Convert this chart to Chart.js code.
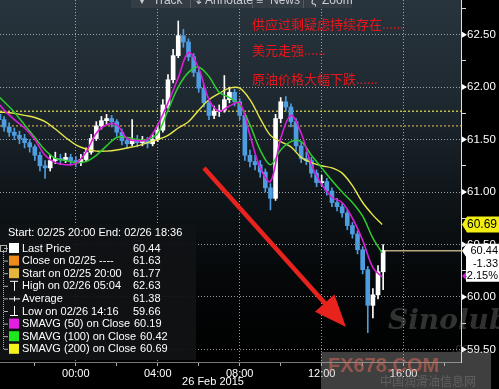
<!DOCTYPE html>
<html><head><meta charset="utf-8">
<script src="https://cdn.jsdelivr.net/npm/chart.js@4"></script>
<style>html,body{margin:0;padding:0;background:#000;overflow:hidden}</style>
</head><body>
<canvas id="c" width="499" height="389"></canvas>
<script>
// ---------- DATA ----------
const barTimes = ["20:15","20:30","20:45","21:00","21:15","21:30","21:45","22:00","22:15","22:30","22:45","23:00","23:15","23:30","23:45",
"00:00","00:15","00:30","00:45","01:00","01:15","01:30","01:45","02:00","02:15","02:30","02:45","03:00","03:15","03:30","03:45",
"04:00","04:15","04:30","04:45","05:00","05:15","05:30","05:45","06:00","06:15","06:30","06:45","07:00","07:15","07:30","07:45",
"08:00","08:15","08:30","08:45","09:00","09:15","09:30","09:45","10:00","10:15","10:30","10:45","11:00","11:15","11:30","11:45",
"12:00","12:15","12:30","12:45","13:00","13:15","13:30","13:45","14:00","14:15","14:30","14:45","15:00"];
const opens  = [61.74,61.69,61.62,61.57,61.54,61.51,61.47,61.43,61.35,61.25,61.23,61.30,61.32,61.31,61.33,
61.30,61.29,61.31,61.38,61.51,61.63,61.68,61.70,61.67,61.57,61.49,61.46,61.50,61.47,61.49,61.46,
61.50,61.59,61.83,62.07,62.30,62.49,62.43,62.29,62.14,61.99,61.85,61.73,61.77,61.78,61.88,61.95,
61.86,61.73,61.35,61.29,61.26,61.19,61.04,60.94,61.70,61.86,61.81,61.67,61.44,61.32,61.30,61.18,
61.09,61.10,61.01,60.90,60.86,60.80,60.68,60.60,60.45,60.26,59.92,60.02,60.24];
const highs  = [61.77,61.72,61.66,61.61,61.58,61.55,61.50,61.45,61.38,61.30,61.35,61.38,61.36,61.37,61.36,
61.34,61.36,61.42,61.55,61.67,61.72,61.74,61.73,61.69,61.60,61.52,61.69,61.54,61.53,61.52,61.55,
61.64,61.88,62.12,62.36,62.63,62.55,62.46,62.32,62.18,62.02,61.88,61.82,61.83,62.11,62.00,61.98,
61.89,61.75,61.40,61.35,61.30,61.22,61.08,61.74,61.90,61.91,61.84,61.70,61.47,61.38,61.33,61.21,
61.16,61.13,61.04,60.94,60.89,60.83,60.71,60.63,60.48,60.29,60.08,60.30,60.50];
const lows   = [61.64,61.58,61.53,61.50,61.46,61.42,61.38,61.30,61.20,61.13,61.20,61.27,61.26,61.28,61.26,
61.24,61.25,61.29,61.36,61.49,61.60,61.64,61.62,61.53,61.45,61.42,61.44,61.43,61.44,61.42,61.44,
61.48,61.57,61.80,62.04,62.28,62.38,62.25,62.10,61.95,61.81,61.69,61.70,61.72,61.76,61.85,61.82,
61.69,61.30,61.24,61.21,61.14,61.00,60.83,60.92,61.66,61.77,61.62,61.39,61.28,61.26,61.14,61.05,
61.06,60.97,60.86,60.82,60.76,60.64,60.56,60.41,60.22,59.66,59.80,59.98,60.07];
const closes = [61.69,61.62,61.57,61.54,61.51,61.47,61.43,61.35,61.25,61.23,61.30,61.32,61.31,61.33,61.30,
61.29,61.31,61.38,61.51,61.63,61.68,61.70,61.67,61.57,61.49,61.46,61.50,61.47,61.49,61.46,61.50,
61.59,61.83,62.07,62.30,62.49,62.43,62.29,62.14,61.99,61.85,61.73,61.77,61.78,61.88,61.95,61.86,
61.73,61.35,61.29,61.26,61.19,61.04,60.94,61.70,61.86,61.81,61.67,61.44,61.32,61.30,61.18,61.09,
61.10,61.01,60.90,60.86,60.80,60.68,60.60,60.45,60.26,59.92,60.02,60.24,60.44];

const maTimes = ["20:18","20:30","21:00","21:30","22:00","22:30","23:00","23:30","00:00","00:30","01:00","01:30","02:00",
"02:30","03:00","03:30","04:00","04:30","05:00","05:30","06:00","06:30","07:00","07:30","08:00","08:30","09:00","09:30",
"10:00","10:30","11:00","11:30","12:00","12:30","13:00","13:30","14:00","14:30","14:57"];
const sma50  = [61.83,61.78,61.69,61.61,61.50,61.35,61.28,61.26,61.27,61.38,61.56,61.64,61.64,61.51,61.49,61.50,61.64,61.85,62.09,62.33,
62.18,61.88,61.77,61.82,61.85,61.54,61.23,61.10,61.51,61.73,61.56,61.26,61.07,60.95,60.90,60.75,60.54,60.28,60.19];
const sma100 = [61.90,61.86,61.76,61.64,61.52,61.40,61.32,61.30,61.28,61.29,61.35,61.44,61.52,61.52,61.50,61.50,61.56,61.78,62.00,62.14,
62.19,62.10,61.95,61.90,61.83,61.64,61.40,61.26,61.40,61.48,61.48,61.35,61.23,61.11,61.00,60.90,60.77,60.56,60.42];
const sma200 = [61.76,61.76,61.75,61.73,61.71,61.67,61.60,61.52,61.45,61.41,61.39,61.39,61.40,61.42,61.44,61.47,61.50,61.54,61.61,61.67,
61.78,61.88,61.94,61.99,61.99,61.88,61.70,61.54,61.48,61.43,61.33,61.28,61.25,61.23,61.18,61.06,60.90,60.78,60.69];

const yTicks = [59.5,59.75,60,60.25,60.5,60.75,61,61.25,61.5,61.75,62,62.25,62.5,62.75];
const xTickTimes = ["22:00","00:00","02:00","04:00","06:00","08:00","10:00","12:00","14:00","16:00","18:00"];
const xLabelTimes = ["00:00","04:00","08:00","12:00","16:00"];
const xRangeStart = "20:18", xRangeEnd = "18:36";
const yMin = 59.38, yMax = 62.83;

const lastPrice = 60.44, prevClose = 61.63, startPrice = 61.77;
const changeText = ["60.44","-1.33","-2.15%"];
const sma200Last = "60.69";

const legendHeader = "Start: 02/25 20:00 End: 02/26 18:36";
const legendLabels = ["Last Price","Close on 02/25 ----","Start on 02/25 20:00","High on 02/26 05:04","Average","Low on 02/26 14:16",
  "SMAVG (50) on Close","SMAVG (100) on Close","SMAVG (200) on Close"];
const legendValues = ["60.44","61.63","61.77","62.63","61.38","59.66","60.19","60.42","60.69"];
const legendIcons = ["#ffffff","#f08a1a","#e3b53c","T","avg","low","#e31ee3","#1ee81e","#f2f21e"];

const notes = ["供应过剩疑虑持续存在......","美元走强......","原油价格大幅下跌......"];
const toolbar = ["Track","Annotate","News","Zoom"];
const dateLabel = "26 Feb 2015";

// ---------- HELPERS ----------
function toH(t){const [h,m]=t.split(":").map(Number);let v=h+m/60;return h>=20?v-20:v+4;}
function fmtH(v){let h=Math.round(v+20)%24;return (h<10?"0":"")+h+":00";}
const FONT = '"Liberation Sans", Arial, sans-serif';
const UP='#ffffff', DN='#4d9de0';
const candleColors = closes.map((c,i)=> c>=opens[i]?UP:DN);

const bgPlugin = {
  id:'bg',
  beforeDraw(chart){
    const {ctx, chartArea:a} = chart;
    ctx.save();
    ctx.fillStyle='#000'; ctx.fillRect(0,0,chart.width,chart.height);
    const g=ctx.createLinearGradient(0,a.top,0,a.bottom);
    g.addColorStop(0,'#28343d'); g.addColorStop(0.3,'#1d272e'); g.addColorStop(0.55,'#0e1418'); g.addColorStop(0.8,'#040607'); g.addColorStop(1,'#000');
    ctx.fillStyle=g; ctx.fillRect(a.left,a.top,a.right-a.left,a.bottom-a.top);
    ctx.restore();
  },
  afterDraw(chart){
    const {ctx, chartArea:a, scales:{x,y}} = chart;
    ctx.save();
    // y tick pointer triangles
    ctx.fillStyle='#fff';
    yTicks.filter(v=>Math.abs(v*2-Math.round(v*2))<1e-6).forEach(v=>{
      const py=y.getPixelForValue(v);
      ctx.beginPath(); ctx.moveTo(a.right+1,py-3); ctx.lineTo(a.right+6,py); ctx.lineTo(a.right+1,py+3); ctx.closePath(); ctx.fill();
    });
    // date label
    ctx.font='11px '+FONT; ctx.fillStyle='#fff'; ctx.textAlign='center'; ctx.textBaseline='middle';
    ctx.fillText(dateLabel, 213, 382);
    // toolbar
    ctx.fillStyle='#353d44'; ctx.fillRect(131,-6,221,14);
    ctx.strokeStyle='#555d64'; ctx.lineWidth=1;
    [190,252,303].forEach(px=>{ctx.beginPath();ctx.moveTo(px+0.5,-6);ctx.lineTo(px+0.5,8);ctx.stroke();});
    ctx.fillStyle='#c9cdd0'; ctx.textAlign='left'; ctx.font='12px '+FONT;
    ctx.fillText('▾',139,1); ctx.fillText(toolbar[0],153,1);
    ctx.fillText('↯',193,1); ctx.fillText(toolbar[1],205,1);
    ctx.fillText('≡',256,1); ctx.fillText(toolbar[2],270,1);
    ctx.fillText('ζ',311,1); ctx.fillText(toolbar[3],322,1);
    // red notes
    ctx.fillStyle='#e8161c'; ctx.font='13px "Noto Sans CJK SC", sans-serif';
    ctx.fillText(notes[0],252,24); ctx.fillText(notes[1],252,50); ctx.fillText(notes[2],252,79);
    // red arrow
    const x0=204,y0=168,x1=346,y1=327;
    const ang=Math.atan2(y1-y0,x1-x0), hl=32, hw=13;
    const bx=x1-hl*Math.cos(ang), by=y1-hl*Math.sin(ang);
    ctx.strokeStyle='#e8231d'; ctx.lineWidth=4.5; ctx.lineCap='butt';
    ctx.beginPath(); ctx.moveTo(x0,y0); ctx.lineTo(bx+4*Math.cos(ang),by+4*Math.sin(ang)); ctx.stroke();
    ctx.fillStyle='#e8231d'; ctx.beginPath(); ctx.moveTo(x1,y1);
    ctx.lineTo(bx+hw*Math.sin(ang),by-hw*Math.cos(ang)); ctx.lineTo(bx-hw*Math.sin(ang),by+hw*Math.cos(ang)); ctx.closePath(); ctx.fill();
    // legend box
    ctx.fillStyle='rgba(16,18,20,0.93)'; ctx.fillRect(0,224,196,136);
    ctx.font='11px '+FONT; ctx.textBaseline='middle'; ctx.fillStyle='#fff';
    ctx.fillText(legendHeader,8,233);
    ctx.strokeStyle='#b0b0b0'; ctx.lineWidth=1; ctx.setLineDash([1,1]);
    ctx.beginPath(); ctx.moveTo(3.5,250); ctx.lineTo(3.5,349); ctx.stroke();
    ctx.setLineDash([]);
    ctx.strokeRect(0.5,245.5,6,6);
    legendLabels.forEach((lab,i)=>{
      const ry=248+i*12.6;
      ctx.strokeStyle='#b0b0b0'; ctx.beginPath(); ctx.moveTo(4,ry+0.5); ctx.lineTo(8,ry+0.5); ctx.stroke();
      const ic=legendIcons[i];
      if(ic.startsWith('#')){ctx.fillStyle=ic; ctx.fillRect(9,ry-5,10,10);}
      else {
        ctx.strokeStyle='#fff'; ctx.lineWidth=1; ctx.beginPath();
        if(ic==='T'){ctx.moveTo(10,ry-4.5);ctx.lineTo(18,ry-4.5);ctx.moveTo(14.5,ry-4.5);ctx.lineTo(14.5,ry+5);}
        else if(ic==='low'){ctx.moveTo(10,ry+4.5);ctx.lineTo(18,ry+4.5);ctx.moveTo(14.5,ry+4.5);ctx.lineTo(14.5,ry-5);}
        else {ctx.moveTo(9,ry+0.5);ctx.lineTo(20,ry+0.5);ctx.moveTo(14.5,ry-2);ctx.lineTo(14.5,ry+3);}
        ctx.stroke();
      }
      ctx.fillStyle='#fff'; ctx.textAlign='left';
      ctx.fillText(lab,22,ry+0.5);
      const w=ctx.measureText(lab).width;
      ctx.fillText(legendValues[i], Math.max(133,22+w+4), ry+0.5);
    });
    // yellow SMA200 label
    const yy=y.getPixelForValue(parseFloat(sma200Last));
    ctx.fillStyle='#f2ee12';
    ctx.beginPath(); ctx.moveTo(a.right+1,yy); ctx.lineTo(a.right+6,yy-8); ctx.lineTo(499,yy-8); ctx.lineTo(499,yy+8); ctx.lineTo(a.right+6,yy+8); ctx.closePath(); ctx.fill();
    ctx.fillStyle='#000'; ctx.textAlign='right'; ctx.font='12px '+FONT;
    ctx.fillText(sma200Last,497,yy+0.5);
    // white last price box
    const ly=y.getPixelForValue(lastPrice);
    ctx.fillStyle='#fff';
    ctx.beginPath(); ctx.moveTo(a.right+1,ly); ctx.lineTo(a.right+5,ly-6); ctx.lineTo(a.right+5,ly-7); ctx.lineTo(499,ly-7); ctx.lineTo(499,ly+31); ctx.lineTo(a.right+5,ly+31); ctx.lineTo(a.right+5,ly+6); ctx.closePath(); ctx.fill();
    ctx.fillStyle='#000'; ctx.font='11px '+FONT;
    changeText.forEach((t,i)=>ctx.fillText(t,498,ly+0.5+i*12.3));
    // magenta pointer (SMA50)
    const my=y.getPixelForValue(sma50[sma50.length-1]);
    ctx.fillStyle='#d21ed2';
    ctx.beginPath(); ctx.moveTo(a.right+1,my-1); ctx.lineTo(a.right+5,my-5); ctx.lineTo(a.right+5,my+3); ctx.closePath(); ctx.fill();
    // watermark
    ctx.fillStyle='rgba(190,190,190,0.33)'; ctx.fillRect(321,352,170,37);
    ctx.font='italic bold 28px "DejaVu Serif", serif'; ctx.textAlign='left'; ctx.fillStyle='rgba(150,150,150,0.32)';
    ctx.fillText('Sinolub',388,322);
    ctx.font='italic 13px '+FONT; ctx.fillText('.com',452,348);
    ctx.font='bold 20px '+FONT; ctx.fillStyle='rgba(230,110,90,0.5)'; ctx.fillText('FX678.COM',328,366);
    ctx.font='12px "Noto Sans CJK SC", sans-serif'; ctx.fillStyle='rgba(110,110,110,0.7)'; ctx.fillText('中国润滑油信息网',380,381);
    ctx.restore();
  }
};

const barPts = (a,b)=> barTimes.map((t,i)=>({x:toH(t), y:[a[i],b[i]]}));
const maPts = arr => maTimes.map((t,i)=>({x:toH(t), y:arr[i]}));
const hLine = (v, x0, x1) => [{x:x0,y:v},{x:x1,y:v}];

new Chart(document.getElementById('c'), {
  data:{ datasets:[
    {type:'line', data:maPts(sma50), borderColor:'#d81ed8', borderWidth:1.6, pointRadius:0, tension:0.35, order:1},
    {type:'line', data:maPts(sma100), borderColor:'#2ecc2e', borderWidth:1.5, pointRadius:0, tension:0.35, order:1},
    {type:'line', data:maPts(sma200), borderColor:'#e6e64a', borderWidth:1.4, pointRadius:0, tension:0.35, order:1},
    {type:'bar', data:barPts(opens,closes), backgroundColor:candleColors, barThickness:4, minBarLength:1, grouped:false, order:2},
    {type:'bar', data:barPts(lows,highs), backgroundColor:candleColors, barThickness:1, grouped:false, order:3},
    {type:'line', data:hLine(lastPrice, toH(barTimes[barTimes.length-1]), toH(xRangeEnd)+0.2), borderColor:'#b8a67c', borderWidth:1.5, pointRadius:0, order:4},
    {type:'line', data:hLine(startPrice, toH(xRangeStart), toH(xRangeEnd)+0.2), borderColor:'#e0d24a', borderWidth:1.3, borderDash:[2,2], pointRadius:0, order:5},
    {type:'line', data:hLine(prevClose, toH(xRangeStart), toH(xRangeEnd)+0.2), borderColor:'#c9a94e', borderWidth:1.2, borderDash:[2,2], pointRadius:0, order:5}
  ]},
  options:{
    responsive:false, animation:false, devicePixelRatio:1,
    layout:{padding:0},
    plugins:{legend:{display:false}, tooltip:{enabled:false}},
    scales:{
      x:{type:'linear', offset:false, min:toH(xRangeStart), max:toH(xRangeEnd)+0.2,
        afterBuildTicks:s=>{s.ticks=xTickTimes.map(t=>({value:toH(t)}));},
        afterFit:s=>{s.height=27; s.paddingLeft=0; s.paddingRight=0;},
        ticks:{color:'#fff', font:{size:11, family:FONT}, padding:1, maxRotation:0, autoSkip:false,
          callback:v=> xLabelTimes.includes(fmtH(v)) ? fmtH(v) : ''},
        grid:{offset:false, color:c=> (c.tick && xLabelTimes.includes(fmtH(c.tick.value)))?'rgba(200,205,210,0.75)':'rgba(0,0,0,0)',
          tickColor:'#aaa', tickLength:4, lineWidth:1},
        border:{display:true, color:'#777', dash:[1,2]}
      },
      y:{type:'linear', position:'right', min:yMin, max:yMax,
        afterBuildTicks:s=>{s.ticks=yTicks.map(v=>({value:v}));},
        afterFit:s=>{s.width=38; s.paddingTop=0; s.paddingBottom=0;},
        ticks:{color:'#fff', font:{size:11.5, family:FONT}, padding:1, autoSkip:false,
          callback:v=> Math.abs(v*2-Math.round(v*2))<1e-6 ? v.toFixed(2) : ''},
        grid:{color:c=> (c.tick && Math.abs(c.tick.value*2-Math.round(c.tick.value*2))<1e-6)?'rgba(200,205,210,0.75)':'rgba(0,0,0,0)',
          tickColor:'#ddd', tickLength:5, lineWidth:1},
        border:{display:true, color:'#e0e0e0', dash:[1,2]}
      }
    }
  },
  plugins:[bgPlugin]
});
</script>
</body></html>
